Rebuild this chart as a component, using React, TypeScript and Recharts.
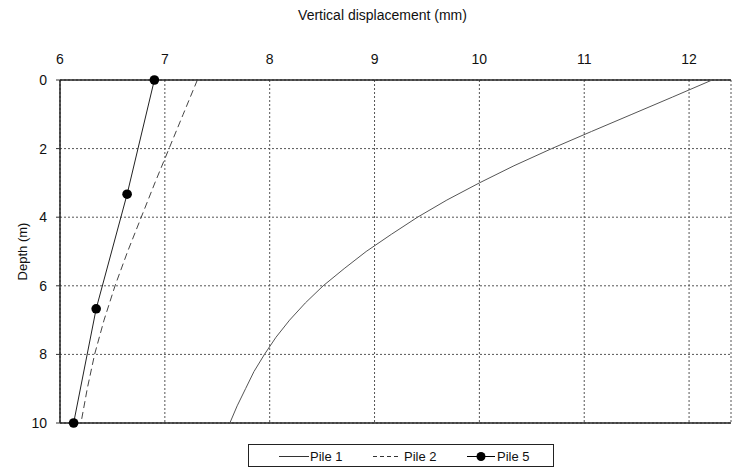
import React from 'react';
import { ScatterChart, Scatter, XAxis, YAxis, CartesianGrid, ReferenceLine } from 'recharts';

const pile1Depths = [0, 0.5, 1, 1.5, 2, 2.5, 3, 3.5, 4, 4.5, 5, 5.5, 6, 6.5, 7, 7.5, 8, 8.5, 9, 9.5, 10];
const pile1Values = [12.22, 11.84, 11.455, 11.07, 10.69, 10.33, 10.0, 9.69, 9.41, 9.16, 8.92, 8.71, 8.51, 8.34, 8.19, 8.06, 7.95, 7.85, 7.77, 7.69, 7.62];

const pile2Depths = [0, 1, 2, 3, 4, 5, 6, 7, 8, 9, 10];
const pile2Values = [7.31, 7.175, 7.04, 6.905, 6.775, 6.645, 6.525, 6.42, 6.33, 6.26, 6.2];

const pile5Depths = [0, 3.33, 6.67, 10];
const pile5Values = [6.9, 6.64, 6.345, 6.13];

const xTicks = [6, 7, 8, 9, 10, 11, 12];
const yTicks = [0, 2, 4, 6, 8, 10];

const build = (d: number[], v: number[]) => d.map((depth, i) => ({ x: v[i], y: depth }));
const pile1 = build(pile1Depths, pile1Values);
const pile2 = build(pile2Depths, pile2Values);
const pile5 = build(pile5Depths, pile5Values);

const font = 'Liberation Sans, Arial, sans-serif';
const noShape = () => <g />;
const dotShape = (p: any) => <circle cx={p.cx} cy={p.cy} r={4.8} fill="#000" />;

const LegendBox = () => (
  <div
    style={{
      position: 'absolute',
      left: 248,
      top: 444,
      width: 306,
      height: 23,
      border: '1px solid #222',
      boxSizing: 'border-box',
      fontFamily: font,
      fontSize: 13,
      color: '#111',
    }}
  >
    <svg width={306} height={23} style={{ position: 'absolute', left: 0, top: 0 }}>
      <line x1={30} x2={60} y1={11.5} y2={11.5} stroke="#333" strokeWidth={1} />
      <line x1={124} x2={152} y1={11.5} y2={11.5} stroke="#333" strokeWidth={1} strokeDasharray="4 3" />
      <line x1={218} x2={246} y1={11.5} y2={11.5} stroke="#000" strokeWidth={1} />
      <circle cx={232} cy={11.5} r={4.5} fill="#000" />
      <text x={61} y={16} fontSize={13} fontFamily={font} fill="#111">Pile 1</text>
      <text x={155} y={16} fontSize={13} fontFamily={font} fill="#111">Pile 2</text>
      <text x={248} y={16} fontSize={13} fontFamily={font} fill="#111">Pile 5</text>
    </svg>
  </div>
);

export default function App() {
  return (
    <div style={{ position: 'absolute', left: 0, top: 0, width: 733, height: 469, fontFamily: font }}>
      <ScatterChart width={733} height={469} margin={{ top: 50, right: 2, left: 0, bottom: 46 }}>
        <CartesianGrid stroke="#555" strokeDasharray="2 2" />
        <XAxis
          type="number"
          dataKey="x"
          orientation="top"
          domain={[6, 12.4]}
          ticks={xTicks}
          allowDataOverflow
          height={30}
          tickLine={false}
          tickSize={6}
          tickMargin={10}
          axisLine={{ stroke: '#222', strokeWidth: 1.5 }}
          tick={{ fill: '#111', fontSize: 14, fontFamily: font }}
          label={{ value: 'Vertical displacement (mm)', position: 'top', offset: 30, dx: -13, fill: '#111', fontSize: 14, fontFamily: font }}
        />
        <YAxis
          type="number"
          dataKey="y"
          reversed
          domain={[0, 10]}
          ticks={yTicks}
          width={60}
          tickSize={4}
          tickMargin={9}
          tickLine={{ stroke: '#333' }}
          axisLine={{ stroke: '#222', strokeWidth: 1.5 }}
          tick={{ fill: '#111', fontSize: 14, fontFamily: font }}
          label={{ value: 'Depth (m)', angle: -90, position: 'insideLeft', offset: 22, style: { textAnchor: 'middle' }, fill: '#111', fontSize: 13, fontFamily: font }}
        />
        <ReferenceLine y={10} stroke="#222" strokeWidth={1.5} />
        <Scatter name="Pile 1" data={pile1} line={{ stroke: '#555', strokeWidth: 1 }} lineType="joint" shape={noShape} isAnimationActive={false} />
        <Scatter name="Pile 2" data={pile2} line={{ stroke: '#444', strokeWidth: 1, strokeDasharray: '7 4' }} lineType="joint" shape={noShape} isAnimationActive={false} />
        <Scatter name="Pile 5" data={pile5} line={{ stroke: '#222', strokeWidth: 1 }} lineType="joint" shape={dotShape} isAnimationActive={false} />
      </ScatterChart>
      <LegendBox />
    </div>
  );
}
